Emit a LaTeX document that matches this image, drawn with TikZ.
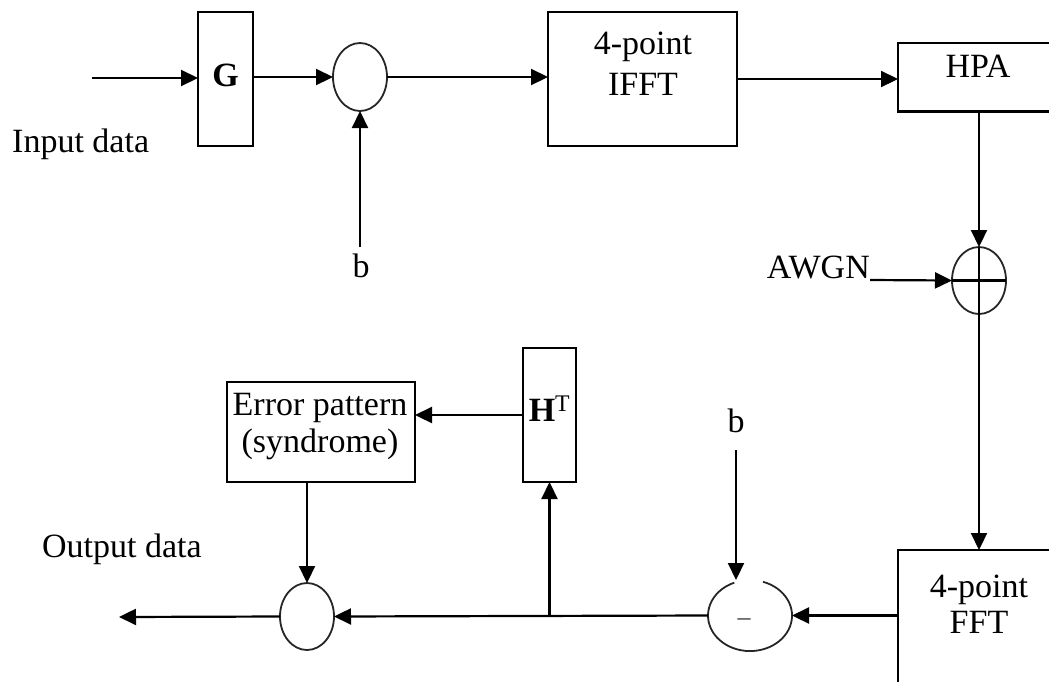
\documentclass[tikz,border=0pt]{standalone}
\usepackage{fontspec}
\setmainfont{Liberation Serif}
\usetikzlibrary{shapes.geometric,arrows.meta}
\begin{document}
\begin{tikzpicture}[x=1pt,y=-1pt,
  every node/.style={font=\fontsize{34}{40}\selectfont},
  box/.style={draw, line width=2.2pt, rectangle, inner sep=0pt, outer sep=0pt},
  circ/.style={ellipse, inner sep=0pt, outer sep=0pt, line width=1.8pt},
  rcirc/.style={circ, draw=black!85},
  txt/.style={inner sep=0pt, anchor=base},
  arr/.style={line width=2.2pt, -{Triangle[length=17pt,width=16pt]}},
  ln/.style={line width=2.2pt}]
\useasboundingbox (0,0) rectangle (1049,681);
\clip (0,0) rectangle (1049,681);
% boxes
\node[box, minimum width=55pt, minimum height=134pt] (g) at (225.5,79) {};
\node[box, minimum width=189pt, minimum height=134pt] (ifft) at (642.5,79) {};
\node[box, minimum width=212pt, minimum height=68.5pt] (hpa) at (1004,77.25) {};
\node[box, minimum width=212pt, minimum height=210pt] (fft) at (1004,655) {};
\node[box, minimum width=53pt, minimum height=134pt] (ht) at (549.5,415) {};
\node[box, minimum width=188pt, minimum height=100pt] (err) at (321,432) {};
% circles
\node[rcirc, minimum width=54pt, minimum height=68pt] (c1) at (360,77) {};
\node[rcirc, minimum width=54pt, minimum height=67pt] (plus) at (979,280.5) {};
\node[rcirc, minimum width=54pt, minimum height=67pt] (out) at (307,616.5) {};
\node[circ, minimum width=84pt, minimum height=71pt] (minus) at (750,615.5) {};
\draw[line width=1.8pt, draw=black!85] ([shift={(13,-33.7)}]minus.center) arc[start angle=288, end angle=608, x radius=42, y radius=35.5];
% texts
\node[txt] (gt) at (225.5,86) {\textbf{G}};
\node[txt] (ifftA) at (643,54) {4-point};
\node[txt] (ifftB) at (643,95) {IFFT};
\node[txt] (hpat) at (978,77) {HPA};
\node[txt] (fftA) at (979,597) {4-point};
\node[txt] (fftB) at (979,633) {FFT};
\node[txt] (errA) at (320,415) {Error pattern};
\node[txt] (errB) at (320,452) {(syndrome)};
\node[txt] (htt) at (549.5,421) {\textbf{H}\textsuperscript{T}};
\node[txt, anchor=base west] (inlab) at (12,152) {Input data};
\node[txt, anchor=base west] (outlab) at (42,557) {Output data};
\node[txt] (b1) at (361,277) {b};
\node[txt] (b2) at (736,432) {b};
\node[txt, anchor=base east] (awgn) at (870,278) {AWGN};
\node[txt, font=\fontsize{26}{30}\selectfont, text=black!80] (mt) at (744,625) {–};
% free ends
\coordinate (in) at (92,78);
\coordinate (b1s) at (360,247);
\coordinate (b2s) at (736,450);
\coordinate (awgnend) at (870,280);
\coordinate (outend) at (119,617);
\coordinate (j) at (ht.south |- minus.west);
% connectors
\draw[arr] (in) -- (in -| g.west);
\draw[arr] (c1.west -| g.east) -- (c1.west);
\draw[arr] (b1s) -- (c1.south);
\draw[arr] (c1.east) -- (c1.east -| ifft.west);
\draw[arr] (ifft.east) -- (ifft.east -| hpa.west);
\draw[arr] (plus.north |- hpa.south) -- (plus.north);
\draw[arr] (awgnend) -- (plus.west);
\draw[ln] (plus.north) -- (plus.south);
\draw[ln] (plus.west) -- (plus.east);
\draw[arr] (plus.south) -- (plus.south |- fft.north);
\draw[arr] (minus.east -| fft.west) -- (minus.east);
\draw[arr] (b2s) -- (b2s |- minus.north);
\draw[arr] (minus.west) -- (out.east);
\draw[arr] (j) -- (ht.south);
\draw[arr] (ht.west) -- (ht.west -| err.east);
\draw[arr] (out.north |- err.south) -- (out.north);
\draw[arr] (out.west) -- (outend);
\end{tikzpicture}
\end{document}
